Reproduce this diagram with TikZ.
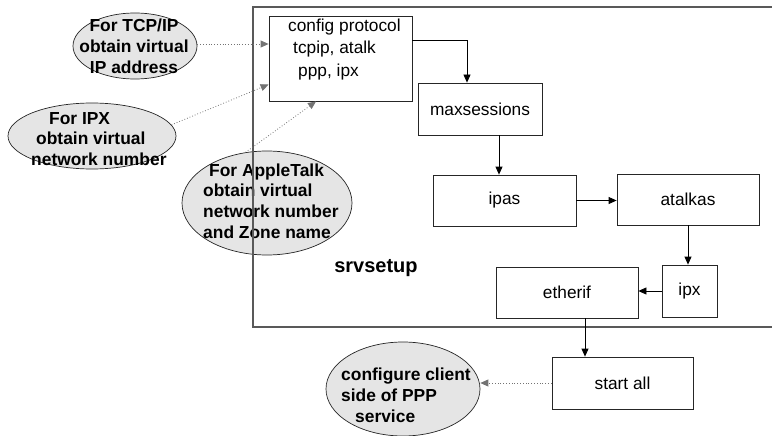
\documentclass[tikz,border=0pt]{standalone}
\usepackage{fontspec}
\setmainfont{Liberation Sans}
\usetikzlibrary{shapes.geometric,arrows.meta}

\tikzset{
  stepbox/.style={draw=black!85, line width=0.8pt, inner sep=0pt},
  blob/.style={ellipse, draw=black!85, line width=0.7pt, fill=black!10, inner sep=0pt},
  plain/.style={inner sep=0pt, font=\fontsize{17.3}{22.5}\selectfont},
  blobtext/.style={inner sep=0pt, align=left, font=\fontsize{17.4}{20.8}\selectfont\bfseries},
  flow/.style={draw=black, line width=0.8pt, -{Triangle[length=8pt,width=7pt]}},
  hint/.style={draw=black!55, line width=0.8pt, dotted, -{Triangle[length=8pt,width=7pt]}},
  frame/.style={draw=black!65, line width=1.3pt}
}

\begin{document}
\begin{tikzpicture}[x=1pt, y=-1pt]
\useasboundingbox (0,0) rectangle (772,436);

% side notes (grey ellipses)
\node[blob, minimum width=124pt, minimum height=66pt] (tcp)   at (135,46)   {};
\node[blob, minimum width=168pt, minimum height=66pt] (ipxe)  at (92,136)   {};
\node[blob, minimum width=170pt, minimum height=104pt] (atk)  at (267,203)  {};
\node[blob, minimum width=154pt, minimum height=94pt] (client) at (403,389) {};

\node[blobtext, align=center] (tcptxt) at (134,46)
  {For TCP/IP\\obtain virtual\\IP address};
\node[blobtext, anchor=west] (ipxtxt) at (31,139)
  {\hspace{18pt}For IPX\\\hspace{5pt}obtain virtual\\network number};
\node[blobtext, anchor=west] (atktxt) at (203,201)
  {\hspace{6pt}For AppleTalk\\obtain virtual\\network number\\and Zone name};
\node[blobtext, anchor=west] (clienttxt) at (341,395)
  {configure client\\side of PPP\\\hspace{14pt}service};

% the srvsetup frame, open to the right
\draw[frame] (772,7) -- (253,7) -- (253,327) -- (772,327);
\node[inner sep=0pt, font=\fontsize{20}{24}\selectfont\bfseries] (srv) at (376,268) {srvsetup};

% steps
\node[stepbox, minimum width=143pt, minimum height=85pt] (config) at (340.5,58.5) {};
\node[plain, anchor=west, align=left] (cfgtxt) at (288,49.5)
  {config protocol\\\hspace{5pt}tcpip, atalk\\\hspace{10pt}ppp, ipx};
\node[stepbox, plain, minimum width=124pt, minimum height=52pt] (maxs)  at (480,109)   {maxsessions};
\node[stepbox, plain, minimum width=143pt, minimum height=51pt] (ipas)  at (504.5,200.5) {ipas};
\node[stepbox, plain, minimum width=142pt, minimum height=51pt] (atalkas) at (688,199.5) {atalkas};
\node[stepbox, plain, minimum width=55pt,  minimum height=52pt] (ipx)   at (689.5,291) {ipx};
\node[stepbox, plain, minimum width=142pt, minimum height=51pt] (ether) at (567,292.5) {etherif};
\node[stepbox, plain, minimum width=141pt, minimum height=52pt] (start) at (622.5,383) {start all};

% sequence
\draw[flow] ([yshift=18.5pt]config.east) -| ([xshift=-13pt]maxs.north);
\draw[flow] ([xshift=19pt]maxs.south) -- ([xshift=19pt]maxs.south |- ipas.north);
\draw[flow] (ipas.east) -- (ipas.east -| atalkas.west);
\draw[flow] (atalkas.south) -- (atalkas.south |- ipx.north);
\draw[flow] (ipx.west) -- (ipx.west -| ether.east);
\draw[flow] ([xshift=18pt]ether.south) -- ([xshift=18pt]ether.south |- start.north);

% notes
\draw[hint] ([yshift=2pt]tcp.east) -- ([yshift=2pt]tcp.east -| config.west);
\draw[hint] (ipxe.8) -- ([yshift=-26pt]config.west);
\draw[hint] (atk.113) -- ([xshift=-24.5pt]config.south);
\draw[hint] (start.west) -- (start.west -| client.east);
\end{tikzpicture}
\end{document}
